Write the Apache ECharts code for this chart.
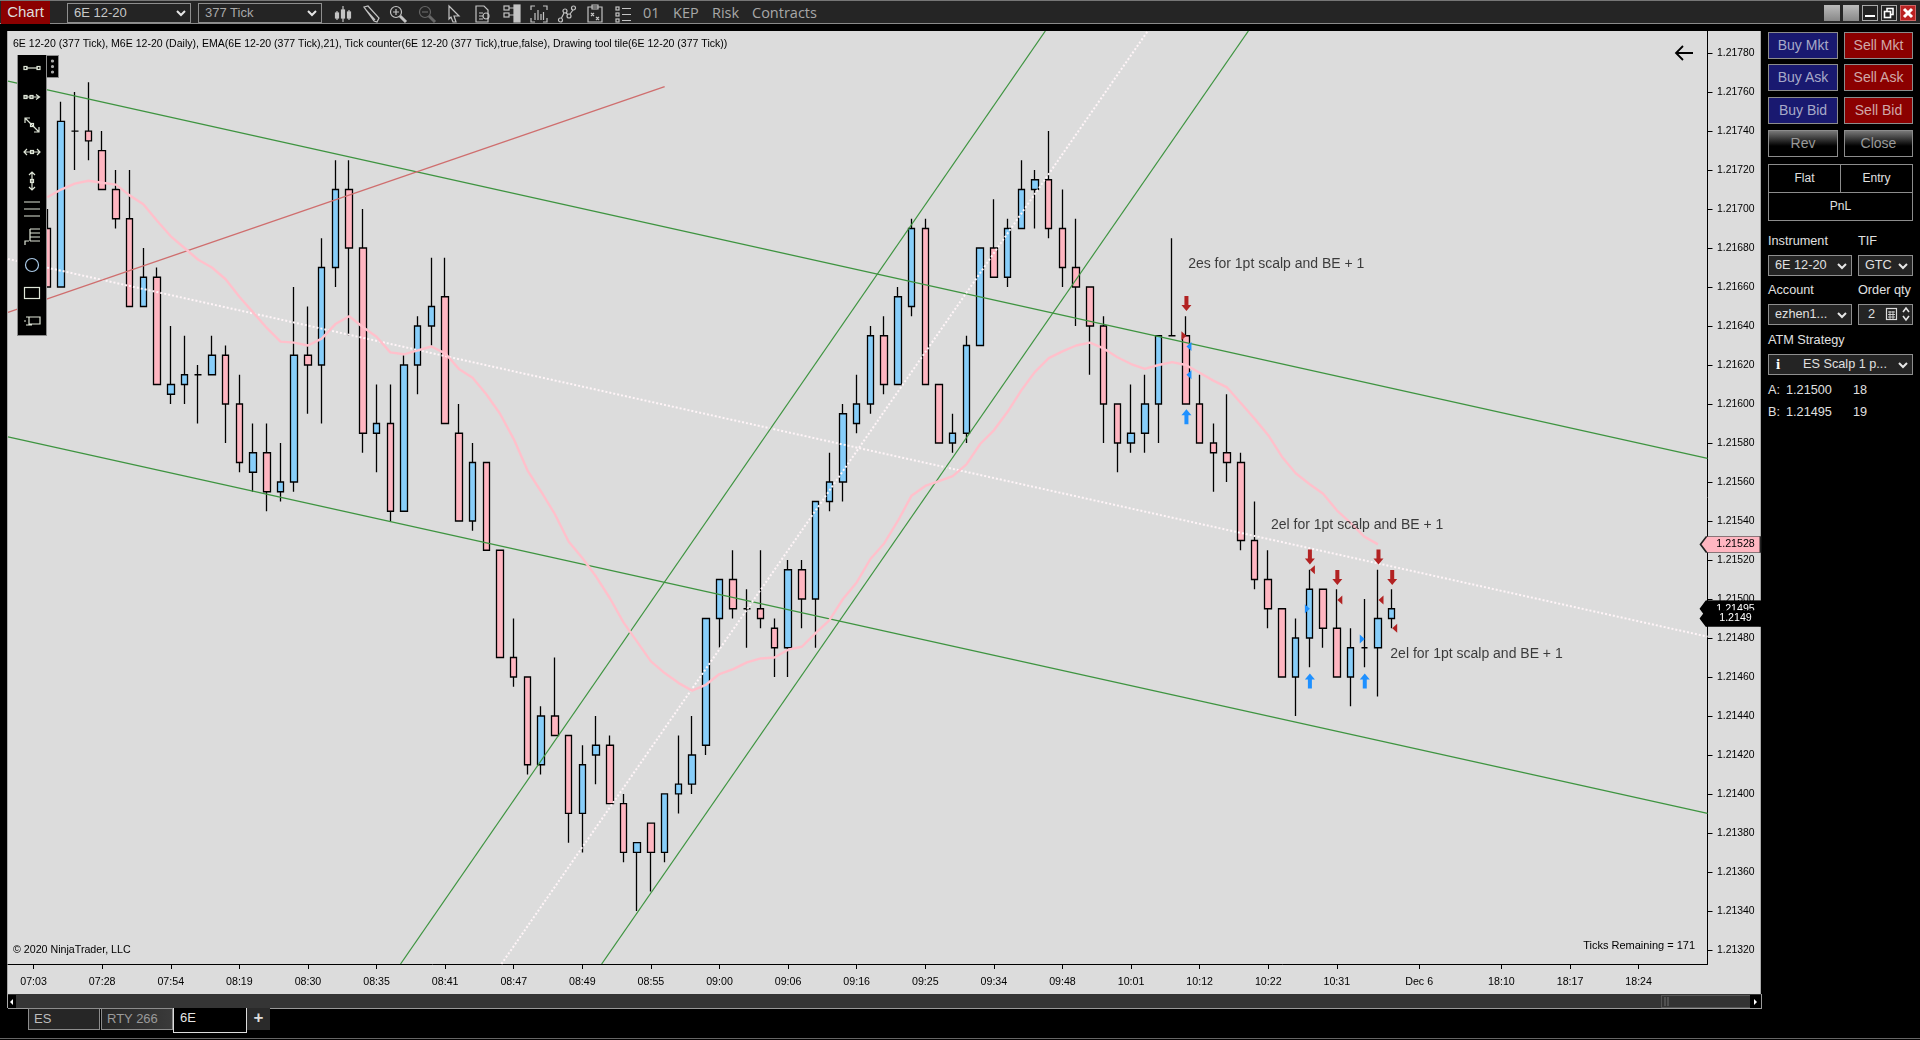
<!DOCTYPE html>
<html><head><meta charset="utf-8"><title>6E 12-20 (377 Tick)</title>
<script src="https://cdn.jsdelivr.net/npm/echarts@6/dist/echarts.min.js"></script>
<style>
html,body{margin:0;padding:0;background:#000;width:1920px;height:1040px;overflow:hidden;font-family:"Liberation Sans",Arial,sans-serif}
.a{position:absolute;box-sizing:border-box;white-space:nowrap}
#chart{position:absolute;left:0;top:0;width:1920px;height:1040px;z-index:5}
#over{position:absolute;left:0;top:0;z-index:6;width:0;height:0}
#under{position:absolute;left:0;top:0;z-index:1;width:0;height:0}
svg{position:absolute;overflow:visible}
</style></head><body>
<div id="under"></div><div id="chart"></div><div id="over"></div>
<script>
// ---- chart data ----
const opens=[1.21690,1.21660,1.21740,1.21740,1.21730,1.21710,1.21695,1.21650,1.21665,1.21605,1.21610,1.21615,1.21615,1.21625,1.21600,1.21565,1.21575,1.21555,1.21560,1.21625,1.21620,1.21670,1.21710,1.21680,1.21585,1.21590,1.21545,1.21620,1.21640,1.21655,1.21585,1.21540,1.21570,1.21525,1.21470,1.21460,1.21415,1.21440,1.21430,1.21390,1.21420,1.21425,1.21395,1.21370,1.21385,1.21370,1.21400,1.21405,1.21425,1.21490,1.21510,1.21495,1.21495,1.21485,1.21475,1.21515,1.21500,1.21550,1.21560,1.21590,1.21600,1.21635,1.21610,1.21650,1.21690,1.21610,1.21580,1.21585,1.21630,1.21680,1.21665,1.21690,1.21710,1.21715,1.21690,1.21670,1.21660,1.21640,1.21600,1.21580,1.21585,1.21600,1.21635,1.21635,1.21600,1.21580,1.21575,1.21570,1.21530,1.21510,1.21495,1.21460,1.21480,1.21505,1.21485,1.21460,1.21475,1.21475,1.21490];
const closes=[1.21660,1.21745,1.21740,1.21735,1.21710,1.21695,1.21650,1.21665,1.21610,1.21610,1.21615,1.21615,1.21625,1.21600,1.21570,1.21575,1.21555,1.21560,1.21625,1.21620,1.21670,1.21710,1.21680,1.21585,1.21590,1.21545,1.21620,1.21640,1.21650,1.21590,1.21540,1.21570,1.21525,1.21470,1.21460,1.21415,1.21440,1.21430,1.21390,1.21415,1.21425,1.21395,1.21370,1.21375,1.21370,1.21400,1.21405,1.21420,1.21490,1.21510,1.21495,1.21495,1.21490,1.21475,1.21515,1.21500,1.21550,1.21560,1.21595,1.21600,1.21635,1.21610,1.21655,1.21690,1.21610,1.21580,1.21585,1.21630,1.21680,1.21665,1.21690,1.21710,1.21715,1.21690,1.21670,1.21660,1.21640,1.21600,1.21580,1.21585,1.21600,1.21635,1.21635,1.21600,1.21580,1.21575,1.21570,1.21530,1.21510,1.21495,1.21460,1.21480,1.21505,1.21485,1.21460,1.21475,1.21475,1.21490,1.21495];
const lows=[1.21660,1.21660,1.21720,1.21725,1.21710,1.21690,1.21650,1.21650,1.21610,1.21600,1.21600,1.21590,1.21615,1.21580,1.21565,1.21555,1.21545,1.21550,1.21555,1.21595,1.21590,1.21660,1.21635,1.21575,1.21565,1.21540,1.21545,1.21605,1.21630,1.21590,1.21540,1.21535,1.21525,1.21470,1.21455,1.21410,1.21410,1.21430,1.21375,1.21370,1.21405,1.21395,1.21365,1.21340,1.21350,1.21365,1.21390,1.21400,1.21420,1.21475,1.21490,1.21475,1.21485,1.21460,1.21460,1.21485,1.21475,1.21545,1.21550,1.21585,1.21595,1.21605,1.21610,1.21645,1.21610,1.21580,1.21575,1.21580,1.21630,1.21665,1.21660,1.21690,1.21690,1.21685,1.21660,1.21640,1.21615,1.21580,1.21565,1.21575,1.21575,1.21580,1.21635,1.21600,1.21580,1.21555,1.21560,1.21525,1.21505,1.21485,1.21460,1.21440,1.21465,1.21475,1.21460,1.21445,1.21465,1.21450,1.21485];
const highs=[1.21700,1.21755,1.21760,1.21765,1.21740,1.21720,1.21720,1.21680,1.21670,1.21640,1.21635,1.21620,1.21635,1.21630,1.21615,1.21590,1.21590,1.21580,1.21660,1.21650,1.21685,1.21725,1.21725,1.21700,1.21610,1.21610,1.21625,1.21645,1.21675,1.21675,1.21600,1.21580,1.21570,1.21525,1.21490,1.21460,1.21445,1.21470,1.21430,1.21425,1.21440,1.21430,1.21400,1.21375,1.21385,1.21400,1.21430,1.21440,1.21490,1.21510,1.21525,1.21505,1.21525,1.21490,1.21520,1.21520,1.21550,1.21575,1.21600,1.21615,1.21640,1.21645,1.21660,1.21695,1.21695,1.21610,1.21595,1.21635,1.21680,1.21705,1.21695,1.21725,1.21720,1.21740,1.21710,1.21695,1.21660,1.21645,1.21600,1.21610,1.21615,1.21635,1.21685,1.21645,1.21615,1.21590,1.21605,1.21575,1.21550,1.21525,1.21495,1.21490,1.21515,1.21505,1.21505,1.21485,1.21500,1.21515,1.21505];
const ema21=[1.21706,1.21710,1.21713,1.217145,1.217135,1.217125,1.21707,1.217025,1.21694,1.21686,1.21680,1.21674,1.21670,1.21664,1.21655,1.21647,1.21639,1.21632,1.216315,1.21630,1.216335,1.21641,1.21645,1.216395,1.216345,1.216265,1.216255,1.216275,1.216295,1.21626,1.21618,1.216135,1.21605,1.21595,1.21582,1.21566,1.21555,1.215435,1.215295,1.21521,1.215115,1.215005,1.21488,1.21478,1.21468,1.21462,1.21457,1.21453,1.21456,1.214615,1.21464,1.214675,1.214695,1.21470,1.21474,1.214755,1.214825,1.21489,1.21500,1.215085,1.215205,1.215285,1.21540,1.21553,1.21558,1.215605,1.21563,1.21569,1.215795,1.215865,1.21596,1.21607,1.216165,1.216235,1.21627,1.21630,1.216315,1.216285,1.21624,1.216205,1.21618,1.21620,1.216215,1.21620,1.21616,1.21612,1.216085,1.216005,1.215925,1.21584,1.21573,1.215645,1.21559,1.21554,1.215455,1.21539,1.21532,1.21528];
const priceTicks=[1.2132,1.2134,1.2136,1.2138,1.2140,1.2142,1.2144,1.2146,1.2148,1.2150,1.2152,1.2154,1.2156,1.2158,1.2160,1.2162,1.2164,1.2166,1.2168,1.2170,1.2172,1.2174,1.2176,1.2178];
const timeTickBars=[-1,4,9,14,19,24,29,34,39,44,49,54,59,64,69,74,79,84,89,94,100,106,111,116];
const timeTickLabels=['07:03','07:28','07:54','08:19','08:30','08:35','08:41','08:47','08:49','08:55','09:00','09:06','09:16','09:25','09:34','09:48','10:01','10:12','10:22','10:31','Dec 6','18:10','18:17','18:24'];
// trend lines: [bar, price] end points
const channelTop=[[-2.866,1.217656],[121.02,1.215721]];
const channelBottom=[[-2.866,1.215831],[121.02,1.213900]];
const channelMiddle=[[-2.866,1.216744],[121.02,1.214807]];
const redRay=[[-2.866,1.216470],[45.0,1.217628]];
const riseLeft=[[25.75,1.213128],[72.75,1.217913]];
const riseRight=[[40.41,1.213128],[87.55,1.217913]];
const riseMiddle=[[33.1,1.213128],[80.22,1.217913]];
// order markers: [bar, price]
const sellArrows=[[83,1.216515],[92,1.215215],[94,1.21511],[97,1.215215],[98,1.21511]];
const buyArrows=[[83,1.215935],[92,1.21458],[96,1.21458]];
const redTriLeft=[[92,1.21515],[94,1.214995],[97,1.214995],[98,1.21485]];
const redTriRight=[[83,1.21635]];
const blueTriRight=[[92,1.21495],[96,1.214795]];
const blueTriLeft=[[83,1.216295],[83,1.21615]];
const noteBars=[83.16,89.2,97.9];
const notePrices=[1.216725,1.215385,1.21472];
const noteTexts=['2es for 1pt scalp and BE + 1','2el for 1pt scalp and BE + 1','2el for 1pt scalp and BE + 1'];
const xMin=-2.866,xMax=121.02,yMin=1.213128,yMax=1.217913;
const emaLast=1.21528, askLast=1.21495, closeLast=1.2149;
const closeLabels=['1.21495','1.2149'];

// ---- window chrome ----
const U=document.getElementById('under'),O=document.getElementById('over');
function box(p,x,y,w,h,css,txt){const d=document.createElement('div');d.className='a';d.style.cssText=`left:${x}px;top:${y}px;width:${w}px;height:${h}px;${css||''}`;if(txt!==undefined)d.textContent=txt;p.appendChild(d);return d;}
function svg(p,x,y,w,h,inner,col){const n=document.createElementNS('http://www.w3.org/2000/svg','svg');n.setAttribute('width',w);n.setAttribute('height',h);n.setAttribute('viewBox',`0 0 ${w} ${h}`);n.style.cssText=`left:${x}px;top:${y}px`;n.innerHTML=`<g fill="none" stroke="${col}" stroke-width="1.2">${inner}</g>`;p.appendChild(n);}
// panels
box(U,0,0,1920,24,'background:#252525;border-top:1px solid #777;border-bottom:1px solid #8a8a8a');
box(U,8,31,1753,963,'background:#DCDCDC;border-right:1px solid #aaa');
box(U,7,31,1,977,'background:#aaa');
box(U,8,994,1754,15,'background:#353535;border-bottom:1px solid #999;border-right:1px solid #999');
box(U,8,995,8,13,'background:#000');svg(U,9,998,6,8,'<path d="M4,1 L1,4 L4,7 Z" fill="#fff" stroke="none"/>','#fff');
box(U,1661,995,90,13,'border:1px solid #555;background:#333');svg(U,1664,997,6,9,'<path d="M1,0V9M4,0V9"/>','#666');
box(U,1750,995,11,13,'background:#000');svg(U,1753,998,6,8,'<path d="M1,1 L4,4 L1,7 Z" fill="#fff" stroke="none"/>','#fff');
box(U,0,1038,1920,1,'background:#666');
// title bar
box(U,1,1,49,23,'background:#8b0000;color:#ddd;font:15px/22px "Liberation Sans";text-align:center','Chart');
function dd(p,x,y,w,h,t,fs,col,extra){const d=box(p,x,y,w,h,`border:1px solid #8e8e8e;background:#242424;color:${col||'#ccc'};font:${fs||13}px/${h-2}px "Liberation Sans";padding-left:${extra||6}px`,t);svg(p,x+w-15,y+h/2-3,10,6,'<path d="M1,1 L5,5 L9,1" stroke-width="2"/>','#e6e6e6');return d;}
dd(U,67,3,124,20,'6E 12-20',13,'#c8c8c8');dd(U,198,3,124,20,'377 Tick',13,'#a8a8a8');
const ic='#c4c4c4';
svg(U,334,5,18,18,'<path d="M3,6V15M9,1V17M15,5V15"/><rect x="1.5" y="8" width="3" height="5" fill="#c4c4c4"/><rect x="7.5" y="5" width="3" height="8" fill="#c4c4c4"/><rect x="13.5" y="7" width="3" height="6" fill="#c4c4c4"/>',ic);
svg(U,362,5,18,18,'<path d="M2,2 L6,1 L17,13 L15,17 L12,16 Z M4,5 L13,15"/>',ic);
svg(U,389,5,18,18,'<circle cx="7" cy="7" r="5.5"/><path d="M7,4V10M4,7H10"/><path d="M11,11 L17,17" stroke-width="3"/>',ic);
svg(U,418,5,18,18,'<circle cx="7" cy="7" r="5.5"/><path d="M4,7H10"/><path d="M11,11 L17,17" stroke-width="3"/>','#666');
svg(U,446,5,16,18,'<path d="M3,1 L13,11 L8,11 L10,17 L7,17 L5,12 L3,14 Z"/>',ic);
svg(U,475,5,16,18,'<path d="M1,1H9L13,5V17H1Z M4,8H8M4,11H8M4,14H8"/><circle cx="11" cy="11" r="3"/>',ic);
svg(U,503,5,18,18,'<rect x="1" y="1" width="5" height="4"/><rect x="1" y="8" width="5" height="4"/><path d="M6,3H11M6,10H11"/><rect x="11" y="0" width="6" height="17" fill="#c4c4c4"/>',ic);
svg(U,530,5,18,18,'<path d="M1,5V1H5M13,1H17V5M1,13V17H5M13,17H17V13M5,15V8M8,15V5M11,15V9M13.5,15V7"/>',ic);
svg(U,558,5,18,18,'<circle cx="2.5" cy="15" r="2"/><circle cx="7" cy="6" r="2"/><circle cx="11" cy="11" r="2"/><circle cx="15.5" cy="3" r="2"/><path d="M3.5,13 L6,8M8,8 L10,9.5M12,9 L15,5"/>',ic);
svg(U,587,5,16,18,'<path d="M1,2H15V17H1Z M5,0H11V4H5Z M4,8 L7,11M7,8 L4,11M9,12 L12,15M12,12 L9,15"/>',ic);
svg(U,615,5,18,18,'<rect x="1" y="2" width="3" height="3"/><rect x="1" y="8" width="3" height="3"/><rect x="1" y="14" width="3" height="3"/><path d="M7,3.5H16M7,9.5H16M7,15.5H16"/>',ic);
[[643,'01'],[673,'KEP'],[712,'Risk'],[752,'Contracts']].forEach(a=>box(U,a[0],3,70,20,'color:#a8a8a8;font:14.5px/20px "Open Sans"',a[1]));
// window buttons
box(U,1824,5,16,16,'background:linear-gradient(#bbb,#888)');box(U,1843,5,16,16,'background:linear-gradient(#bbb,#888)');
box(U,1862,5,16,16,'border:1px solid #aaa;background:#222');box(U,1865,15,10,2,'background:#fff');
box(U,1881,5,16,16,'border:1px solid #aaa;background:#222');svg(U,1884,8,10,10,'<rect x="3" y="0.5" width="6" height="6" stroke-width="1.6"/><rect x="0.5" y="3.5" width="6" height="6" stroke-width="1.6" fill="#222"/>','#fff');
box(U,1900,5,16,16,'border:1px solid #c66;background:#b22');svg(U,1903,8,10,10,'<path d="M1,1 L9,9M9,1 L1,9" stroke-width="3"/>','#fff');
// order buttons
const tBtn=(x,y,w,bg,t,c)=>box(U,x,y,w,27,`background:${bg};border:1px solid #8c8c8c;color:${c};font:14px/25px "Liberation Sans";text-align:center`,t);
[['Buy Mkt','Sell Mkt',32],['Buy Ask','Sell Ask',64],['Buy Bid','Sell Bid',97]].forEach(r=>{tBtn(1768,r[2],70,'#191970',r[0],'#a7a9c8');tBtn(1844,r[2],69,'#8b0000',r[1],'#d0a8a8');});
tBtn(1768,130,70,'linear-gradient(#777,#000 60%)','Rev','#999');tBtn(1844,130,69,'linear-gradient(#777,#000 60%)','Close','#999');
const pan=(x,y,w,h,t)=>box(U,x,y,w,h,`border:1px solid #8c8c8c;color:#e0e0e0;background:#000;font:12px/${h-2}px "Liberation Sans";text-align:center`,t);
pan(1768,164,73,29,'Flat');pan(1840,164,73,29,'Entry');pan(1768,192,145,29,'PnL');
const lb=(x,y,t,c)=>box(U,x,y,90,16,`color:${c||'#e0e0e0'};font:12.7px/16px "Liberation Sans"`,t);
lb(1768,233,'Instrument');lb(1858,233,'TIF');lb(1768,282,'Account');lb(1858,282,'Order qty');lb(1768,332,'ATM Strategy');
dd(U,1768,255,84,21,'6E 12-20',12.7,'#e0e0e0');dd(U,1858,255,55,21,'GTC',12.7,'#e0e0e0');dd(U,1768,304,84,21,'ezhen1...',12.7,'#e0e0e0');
box(U,1858,304,55,21,'border:1px solid #8e8e8e;background:#242424;color:#e0e0e0;font:12.7px/19px "Liberation Sans";padding-left:9px','2');
svg(U,1886,308,12,12,'<rect x="0.5" y="0.5" width="10" height="11"/><path d="M2,4H9M2,6.5H9M2,9H9M4,3V11M7,3V11" stroke-width="0.9"/>','#ddd');
svg(U,1902,307,8,14,'<path d="M1,5 L4,1 L7,5M1,9 L4,13 L7,9" stroke-width="1.6"/>','#e6e6e6');
dd(U,1768,354,145,21,'',12.7,'#e0e0e0');box(U,1776,355,10,19,'color:#fff;font:bold 15px/19px "Liberation Serif"','i');box(U,1803,355,90,19,'color:#e0e0e0;font:12.7px/19px "Liberation Sans"','ES Scalp 1 p...');
[[382,'A:','1.21500','18'],[404,'B:','1.21495','19']].forEach(r=>{lb(1768,r[0],r[1]);lb(1786,r[0],r[2]);lb(1853,r[0],r[3]);});
// tabs
box(U,28,1008,72,22,'border:1px solid #8c8c8c;background:#262626;color:#bdbdbd;font:13px/20px "Liberation Sans";padding-left:5px','ES');
box(U,101,1008,72,22,'border:1px solid #8c8c8c;background:linear-gradient(90deg,#262626,#3a3a3a);color:#9a9a9a;font:13px/20px "Liberation Sans";padding-left:5px','RTY 266');
box(U,173,1008,74,25,'border:1px solid #ddd;border-top:none;background:#000;color:#e6e6e6;font:13px/20px "Liberation Sans";padding-left:6px','6E');
box(U,247,1008,23,22,'background:#2a2a2a;color:#ddd;font:bold 17px/20px "Liberation Sans";text-align:center','+');
// drawing toolbar
box(O,17,55,30,281,'background:#000;border:1px solid #8c8c8c;border-top:none');
box(O,46,55,13,23,'background:#000;border:1px solid #8c8c8c');
svg(O,50,58,5,17,'<circle cx="2.5" cy="3" r="1" fill="#aaa"/><circle cx="2.5" cy="8.5" r="1" fill="#aaa"/><circle cx="2.5" cy="14" r="1" fill="#aaa"/>','#aaa');
const tw='#dfe6d8';
svg(O,23,62,18,12,'<path d="M3,6H15"/><rect x="1" y="4.5" width="3" height="3"/><rect x="14" y="4.5" width="3" height="3"/>',tw);
svg(O,23,91,18,12,'<path d="M1,6H16M13,3.5 L16.5,6 L13,8.5"/><rect x="1" y="4.5" width="3" height="3"/><rect x="7" y="4.5" width="3" height="3"/>',tw);
svg(O,23,116,18,18,'<path d="M2,2 L16,16M2,7V2H7M16,11V16H11"/><rect x="7.5" y="7.5" width="3" height="3"/>',tw);
svg(O,23,146,18,12,'<path d="M1,6H17M4,3 L1,6 L4,9M14,3 L17,6 L14,9"/><rect x="7.5" y="4.5" width="3" height="3"/>',tw);
svg(O,26,171,12,20,'<path d="M6,1V19M3,4 L6,1 L9,4M3,16 L6,19 L9,16"/><rect x="4.5" y="8.5" width="3" height="3"/>',tw);
svg(O,24,200,16,18,'<path d="M0,2H16M0,9H16M0,16H16"/>',tw);
svg(O,23,228,18,18,'<path d="M7,1H17M7,5H17M7,9H17M7,13H17M7,1V13M6,13H2V17" stroke-dasharray="none"/>',tw);
svg(O,24,257,16,16,'<circle cx="8" cy="8" r="6.5" stroke="#a9c9e6"/>',tw);
svg(O,24,287,16,12,'<rect x="0.5" y="0.5" width="15" height="11"/>',tw);
svg(O,23,315,18,12,'<path d="M6,2H17V9H6M3,2H9M3,10H9M6,2V10M1,6H3"/>',tw);
// back arrow
svg(O,1674,45,20,16,'<path d="M19,8H2M9,1 L2,8 L9,15" stroke-width="1.8"/>','#000');

// ---- chart ----
const candleRows=opens.map((v,i)=>[i,v,closes[i],lows[i],highs[i]]);
const emaRows=ema21.map((v,i)=>[i,v]);
const lineSeries=(name,data,color,width,dash,z)=>({name,type:'line',data,showSymbol:false,silent:true,z:z||3,clip:true,
  lineStyle:{color,width,type:dash||'solid',cap:'butt'}});
const marks=(name,data,symbol,size,rotate,offset,color)=>({name,type:'scatter',data,symbol,symbolSize:size,symbolRotate:rotate,symbolOffset:offset,silent:true,z:8,itemStyle:{color,opacity:1}});
const arrow='path://M3,0 H7 V9 H10 L5,15 L0,9 H3 Z';
const tag='path://M0,8 L6,0 H60 V16 H6 Z';
const tagSeries=(name,price,text,fill,txt,border,z)=>({name,type:'scatter',clip:false,silent:true,z,symbol:tag,symbolSize:[60,16],symbolOffset:[23,0],
  data:[[xMax,price]],itemStyle:{color:fill,borderColor:border,borderWidth:1,opacity:1},
  label:{show:true,position:'inside',formatter:text,color:txt,fontFamily:'Liberation Sans',fontSize:10.67,offset:[5,0]}});
const chart=echarts.init(document.getElementById('chart'),null,{renderer:'canvas'});
chart.setOption({
 animation:false,
 backgroundColor:'transparent',
 grid:{left:8,top:31,width:1699.5,height:933,containLabel:false},
 xAxis:{type:'value',min:xMin,max:xMax,splitLine:{show:false},
  axisLine:{show:true,onZero:false,lineStyle:{color:'#000',width:1}},
  axisTick:{show:true,length:5,lineStyle:{color:'#000'},customValues:timeTickBars},
  axisLabel:{customValues:timeTickBars,formatter:v=>timeTickLabels[timeTickBars.indexOf(v)]||'',color:'#000',fontFamily:'Liberation Sans',fontSize:10.67,margin:13,hideOverlap:false,showMinLabel:true,showMaxLabel:true}},
 yAxis:{type:'value',position:'right',min:yMin,max:yMax,scale:true,splitLine:{show:false},
  axisLine:{show:true,onZero:false,lineStyle:{color:'#000',width:1}},
  axisTick:{show:true,length:5,lineStyle:{color:'#000'},customValues:priceTicks},
  axisLabel:{customValues:priceTicks,formatter:v=>v.toFixed(5),color:'#000',fontFamily:'Liberation Sans',fontSize:10.4,margin:9.5}},
 graphic:[
  {type:'text',left:13,top:39,z:20,style:{text:'6E 12-20 (377 Tick), M6E 12-20 (Daily), EMA(6E 12-20 (377 Tick),21), Tick counter(6E 12-20 (377 Tick),true,false), Drawing tool tile(6E 12-20 (377 Tick))',fill:'#000',font:'10.56px "Liberation Sans"'}},
  {type:'text',left:13,top:945,z:20,style:{text:'© 2020 NinjaTrader, LLC',fill:'#000',font:'10.67px "Liberation Sans"'}},
  {type:'text',right:225,top:940,z:20,style:{text:'Ticks Remaining = 171',fill:'#000',font:'11px "Liberation Sans"'}}
 ],
 series:[
  {name:'6E 12-20',type:'candlestick',data:candleRows,barWidth:7,silent:true,z:2,clip:true,
   itemStyle:{color:'#87CEFA',color0:'#FFB6C1',borderColor:'#000',borderColor0:'#000',borderColorDoji:'#000',borderWidth:1.3}},
  lineSeries('Channel top',channelTop,'#3E9440',1.3),
  lineSeries('Channel bottom',channelBottom,'#3E9440',1.3),
  lineSeries('Channel middle',channelMiddle,'#FFF5F8',2,[2,2]),
  lineSeries('Red ray',redRay,'#CF6E6E',1.3),
  lineSeries('Rise left',riseLeft,'#3E9440',1.3),
  lineSeries('Rise right',riseRight,'#3E9440',1.3),
  lineSeries('Rise middle',riseMiddle,'#FFF5F8',2,[2,2]),
  lineSeries('EMA(21)',emaRows,'#FFC0CB',2.4,'solid',4),
  marks('Sell arrows',sellArrows,arrow,[10,15],0,[0.5,0],'#B22222'),
  marks('Buy arrows',buyArrows,arrow,[10,15],180,[0.5,0],'#1E90FF'),
  marks('Sell fill',redTriLeft,'triangle',[9,5],90,[3,0],'#B22222'),
  marks('Sell entry',redTriRight,'triangle',[9,5],-90,[-2,0],'#B22222'),
  marks('Buy entry',blueTriRight,'triangle',[9,5],-90,[-2,0],'#1E90FF'),
  marks('Buy fill',blueTriLeft,'triangle',[9,5],90,[3,0],'#1E90FF'),
  {name:'Notes',type:'scatter',silent:true,z:9,symbolSize:0,
   data:noteBars.map((b,i)=>({value:[b,notePrices[i]],name:noteTexts[i]})),
   label:{show:true,position:'right',distance:0,formatter:'{b}',color:'#111',fontFamily:'Liberation Sans',fontSize:14,offset:[0,1]}},
  tagSeries('EMA value',emaLast,'1.21528','#FFB6C1','#000','#222',10),
  tagSeries('Ask value',askLast,closeLabels[0],'#000','#fff','#000',10),
  tagSeries('Close value',closeLast,closeLabels[1],'#000','#fff','#000',11)
 ]
});
</script></body></html>
